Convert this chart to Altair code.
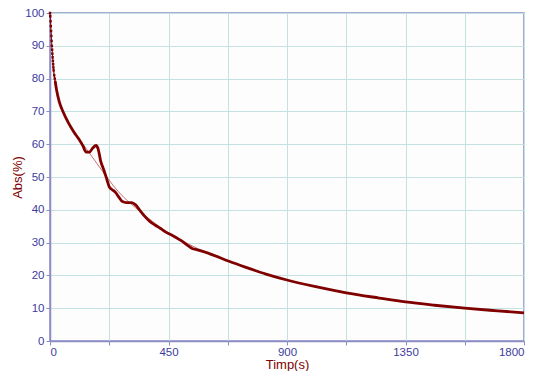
import altair as alt
import pandas as pd

# main measured curve (thick)
main_t = [20, 25, 35, 50, 70, 90, 110, 125, 137, 150, 162, 175, 183, 192, 205, 215, 225, 235, 248,
          262, 275, 290, 310, 325, 340, 360, 380, 400, 420, 440, 460, 480, 500, 520, 540, 560, 580,
          620, 680, 750, 820, 900, 1000, 1125, 1250, 1350, 1460, 1575, 1700, 1800]
main_abs = [79, 76.5, 73, 69.8, 66.5, 63.8, 61.5, 59.5, 57.6, 57.6, 58.8, 59.6, 58.5, 55, 52, 49.5, 47,
            46.2, 45.4, 43.8, 42.5, 42.2, 42.2, 41.5, 40, 38, 36.4, 35.3, 34.3, 33.2, 32.4, 31.5, 30.5,
            29.3, 28.2, 27.8, 27.3, 26.2, 24.3, 22.3, 20.4, 18.6, 16.7, 14.7, 13.1, 11.9, 10.9, 10.0,
            9.2, 8.6]

# early sampled points (dotted start)
early_t = [0, 1, 2, 3, 4, 5, 6, 7, 8, 9, 10, 11, 12, 13, 14, 16, 18, 20]
early_abs = [100, 99, 97.5, 96, 94.5, 93, 91.5, 90, 88.8, 87.6, 86.5, 85.4, 84.4, 83.4, 82.5, 81, 80, 79]

# fitted curve (thin)
fit_t = [10, 25, 50, 90, 130, 175, 220, 260, 300, 350, 400, 450, 500, 560, 680, 800, 900, 1000,
         1125, 1250, 1350, 1460, 1575, 1700, 1800]
fit_abs = [84, 76.5, 70, 64, 59.5, 54.5, 49.5, 45.5, 42.3, 39, 35.8, 33, 30.7, 28.2, 24.3, 21, 18.6,
           16.7, 14.6, 13, 11.9, 10.9, 10, 9.2, 8.6]

x_ticks = [0, 225, 450, 675, 900, 1125, 1350, 1575, 1800]
y_ticks = [0, 10, 20, 30, 40, 50, 60, 70, 80, 90, 100]

main_df = pd.DataFrame({"t": main_t, "abs": main_abs})
early_df = pd.DataFrame({"t": early_t, "abs": early_abs})
fit_df = pd.DataFrame({"t": fit_t, "abs": fit_abs})

axis_blue = "#3c3c9c"
line_blue = "#8c8cc8"
grid_col = "#c4e2e2"
dark_red = "#800000"

x_enc = alt.X("t:Q", scale=alt.Scale(domain=[0, 1800], nice=False),
              axis=alt.Axis(values=x_ticks, format="d", title="Timp(s)",
                            labelExpr="datum.value % 450 == 0 ? datum.label : ''"))
y_enc = alt.Y("abs:Q", scale=alt.Scale(domain=[0, 100], nice=False),
              axis=alt.Axis(values=y_ticks, title="Abs(%)"))

fit = alt.Chart(fit_df).mark_line(color="#cc7070", strokeWidth=1, interpolate="monotone").encode(x=x_enc, y=y_enc)
early_line = alt.Chart(early_df).mark_line(color=dark_red, strokeWidth=1).encode(x=x_enc, y=y_enc)
early_pts = alt.Chart(early_df).mark_square(color=dark_red, size=6, opacity=1).encode(x=x_enc, y=y_enc)
main = alt.Chart(main_df).mark_line(color=dark_red, strokeWidth=2.8, interpolate="monotone").encode(x=x_enc, y=y_enc)

chart = alt.layer(fit, early_line, early_pts, main).properties(
    width=474, height=328,
    padding={"left": 50, "top": 13, "right": 10, "bottom": 30},
    autosize=alt.AutoSizeParams(type="none"),
    background="white",
).configure_view(
    stroke=line_blue, strokeWidth=1.5, fill="#fdfdfd"
).configure_axis(
    gridColor=grid_col, gridWidth=1, gridOpacity=1,
    domainColor=line_blue, domainWidth=1.5,
    tickColor=line_blue, tickSize=4,
    labelColor=axis_blue, labelFont="Liberation Sans", labelFontSize=11.5,
    titleColor=dark_red, titleFont="Liberation Sans", titleFontSize=13, titleFontWeight="normal",
).configure_axisX(
    labelPadding=1, titlePadding=1, titleBaseline="top",
).configure_axisY(
    labelPadding=2, titlePadding=0,
)

chart.save("out.html", embed_options={"renderer": "svg", "actions": False})
